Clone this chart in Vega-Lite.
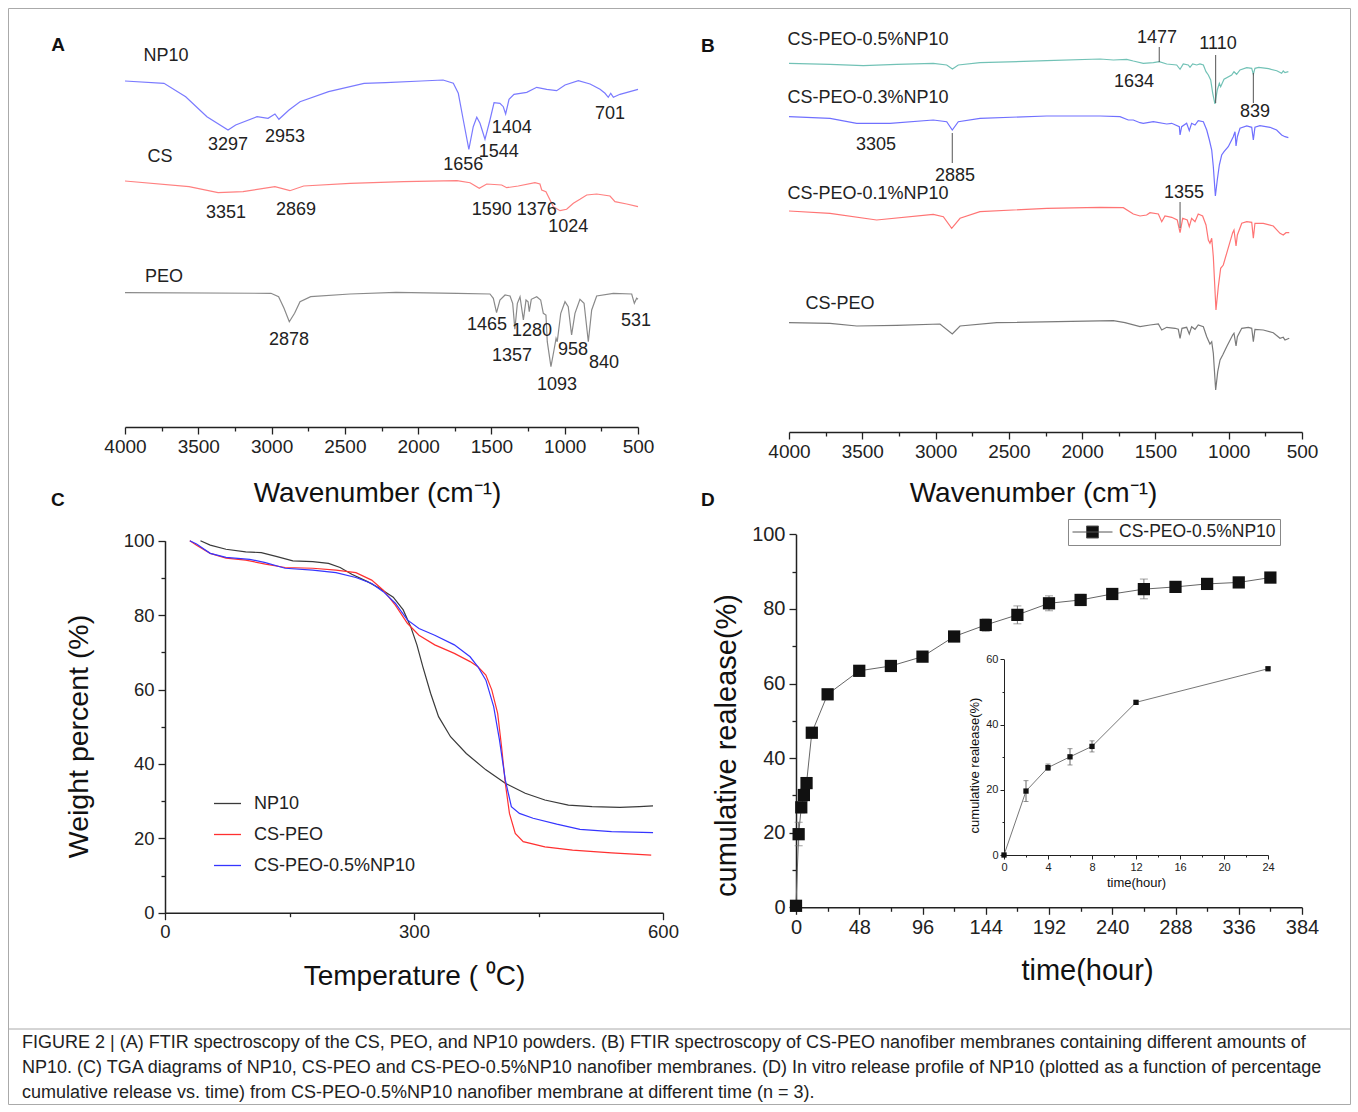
{
"$schema": "https://vega.github.io/schema/vega-lite/v6.json",
"width": 1342, "height": 1096, "padding": 8, "autosize": {"type": "none"},
"background": "white",
"config": {
 "view": {"stroke": "#aaaaaa", "strokeWidth": 1},
 "axis": {"grid": false, "labelFont": "Liberation Sans", "titleFont": "Liberation Sans", "titleFontWeight": "normal", "domainColor": "#222", "tickColor": "#222", "labelColor": "#222", "titleColor": "#111", "labelOverlap": false, "labelFlush": false, "labelBound": false},
 "text": {"font": "Liberation Sans"},
 "legend": {"labelFont": "Liberation Sans"}
},
"datasets": {
 "a_lines": [
  {"s":"NP10","w":4000,"v":346},{"s":"NP10","w":3734,"v":343.7},{"s":"NP10","w":3586,"v":330.3},{"s":"NP10","w":3441,"v":310.3},{"s":"NP10","w":3297,"v":297},{"s":"NP10","w":3245,"v":302},{"s":"NP10","w":3099,"v":310.3},{"s":"NP10","w":3024,"v":308.7},{"s":"NP10","w":2977,"v":313},{"s":"NP10","w":2950,"v":307.7},{"s":"NP10","w":2881,"v":317},{"s":"NP10","w":2806,"v":325.3},{"s":"NP10","w":2611,"v":335.3},{"s":"NP10","w":2369,"v":343.7},{"s":"NP10","w":2221,"v":344.3},{"s":"NP10","w":1978,"v":346},{"s":"NP10","w":1830,"v":347},{"s":"NP10","w":1760,"v":343.7},{"s":"NP10","w":1726,"v":333.7},{"s":"NP10","w":1692,"v":307},{"s":"NP10","w":1654,"v":277.7},{"s":"NP10","w":1624,"v":300.3},{"s":"NP10","w":1600,"v":309.7},{"s":"NP10","w":1578,"v":303.7},{"s":"NP10","w":1544,"v":287.7},{"s":"NP10","w":1510,"v":307},{"s":"NP10","w":1482,"v":324.3},{"s":"NP10","w":1442,"v":323.7},{"s":"NP10","w":1419,"v":320.3},{"s":"NP10","w":1403,"v":313},{"s":"NP10","w":1380,"v":327.7},{"s":"NP10","w":1346,"v":332.7},{"s":"NP10","w":1259,"v":334.7},{"s":"NP10","w":1191,"v":339.7},{"s":"NP10","w":1123,"v":337.7},{"s":"NP10","w":1055,"v":336.3},{"s":"NP10","w":998,"v":342},{"s":"NP10","w":907,"v":346.3},{"s":"NP10","w":827,"v":343},{"s":"NP10","w":759,"v":337.7},{"s":"NP10","w":725,"v":333.7},{"s":"NP10","w":703,"v":329.7},{"s":"NP10","w":686,"v":333.7},{"s":"NP10","w":668,"v":329.7},{"s":"NP10","w":623,"v":332.7},{"s":"NP10","w":500,"v":337.7},
  {"s":"CS","w":4000,"v":246},{"s":"CS","w":3563,"v":240.3},{"s":"CS","w":3365,"v":234.3},{"s":"CS","w":3195,"v":235.3},{"s":"CS","w":2977,"v":240.3},{"s":"CS","w":2875,"v":236.3},{"s":"CS","w":2781,"v":241},{"s":"CS","w":2465,"v":243.7},{"s":"CS","w":2099,"v":245.3},{"s":"CS","w":1735,"v":246.3},{"s":"CS","w":1646,"v":244.3},{"s":"CS","w":1583,"v":238.7},{"s":"CS","w":1532,"v":243},{"s":"CS","w":1430,"v":242},{"s":"CS","w":1396,"v":239.3},{"s":"CS","w":1317,"v":241},{"s":"CS","w":1203,"v":244.3},{"s":"CS","w":1169,"v":243},{"s":"CS","w":1157,"v":237},{"s":"CS","w":1128,"v":235.3},{"s":"CS","w":1100,"v":227},{"s":"CS","w":1078,"v":220.3},{"s":"CS","w":1032,"v":216.3},{"s":"CS","w":987,"v":217.7},{"s":"CS","w":941,"v":223.7},{"s":"CS","w":896,"v":227.7},{"s":"CS","w":850,"v":232},{"s":"CS","w":782,"v":233},{"s":"CS","w":691,"v":231},{"s":"CS","w":657,"v":225.3},{"s":"CS","w":577,"v":223},{"s":"CS","w":500,"v":220.3},
  {"s":"PEO","w":4000,"v":134.3},{"s":"PEO","w":3004,"v":133.7},{"s":"PEO","w":2952,"v":130.3},{"s":"PEO","w":2915,"v":118.7},{"s":"PEO","w":2879,"v":105.3},{"s":"PEO","w":2843,"v":113.7},{"s":"PEO","w":2806,"v":125.3},{"s":"PEO","w":2733,"v":130.3},{"s":"PEO","w":2465,"v":133},{"s":"PEO","w":2151,"v":134.7},{"s":"PEO","w":1735,"v":133.7},{"s":"PEO","w":1510,"v":133},{"s":"PEO","w":1487,"v":128.7},{"s":"PEO","w":1465,"v":114.3},{"s":"PEO","w":1442,"v":127},{"s":"PEO","w":1407,"v":132},{"s":"PEO","w":1373,"v":131},{"s":"PEO","w":1355,"v":123.7},{"s":"PEO","w":1340,"v":97.7},{"s":"PEO","w":1323,"v":123.7},{"s":"PEO","w":1305,"v":130.3},{"s":"PEO","w":1282,"v":107},{"s":"PEO","w":1264,"v":127},{"s":"PEO","w":1250,"v":125.3},{"s":"PEO","w":1242,"v":115.3},{"s":"PEO","w":1228,"v":127.7},{"s":"PEO","w":1191,"v":130.3},{"s":"PEO","w":1164,"v":127},{"s":"PEO","w":1146,"v":113.7},{"s":"PEO","w":1128,"v":112},{"s":"PEO","w":1119,"v":85.3},{"s":"PEO","w":1094,"v":60.3},{"s":"PEO","w":1073,"v":77},{"s":"PEO","w":1059,"v":88.7},{"s":"PEO","w":1051,"v":85.3},{"s":"PEO","w":1027,"v":113.7},{"s":"PEO","w":998,"v":125.3},{"s":"PEO","w":976,"v":120.3},{"s":"PEO","w":953,"v":92},{"s":"PEO","w":930,"v":113.7},{"s":"PEO","w":896,"v":127.7},{"s":"PEO","w":868,"v":123.7},{"s":"PEO","w":839,"v":85.3},{"s":"PEO","w":816,"v":117},{"s":"PEO","w":782,"v":131},{"s":"PEO","w":668,"v":133.7},{"s":"PEO","w":543,"v":133},{"s":"PEO","w":525,"v":123.7},{"s":"PEO","w":509,"v":128.7},{"s":"PEO","w":500,"v":127.7}
 ],
 "a_labels": [
  {"t":"NP10","w":3720,"v":371},{"t":"3297","w":3297,"v":282},{"t":"2953","w":2908,"v":290},{"t":"1656","w":1692,"v":262},{"t":"1544","w":1450,"v":275},{"t":"1404","w":1362,"v":299},{"t":"701","w":691,"v":313},
  {"t":"CS","w":3761,"v":270},{"t":"3351","w":3311,"v":214},{"t":"2869","w":2833,"v":217},{"t":"1590","w":1498,"v":217},{"t":"1376","w":1191,"v":217},{"t":"1024","w":976,"v":200},
  {"t":"PEO","w":3734,"v":150},{"t":"2878","w":2881,"v":87},{"t":"1465","w":1530,"v":102},{"t":"1280","w":1223,"v":96},{"t":"1357","w":1360,"v":71},{"t":"1093","w":1053,"v":42},{"t":"958","w":944,"v":77},{"t":"840","w":732,"v":64},{"t":"531","w":514,"v":106}
 ],
 "b_lines": [
  {"s":"0.5%","w":4000,"v":368.7},{"s":"0.5%","w":3720,"v":367.7},{"s":"0.5%","w":3493,"v":366.3},{"s":"0.5%","w":3265,"v":367.7},{"s":"0.5%","w":3016,"v":368.7},{"s":"0.5%","w":2924,"v":367},{"s":"0.5%","w":2885,"v":363},{"s":"0.5%","w":2845,"v":367},{"s":"0.5%","w":2697,"v":369.3},{"s":"0.5%","w":2242,"v":371.3},{"s":"0.5%","w":1878,"v":373},{"s":"0.5%","w":1787,"v":372},{"s":"0.5%","w":1696,"v":372.7},{"s":"0.5%","w":1651,"v":371},{"s":"0.5%","w":1583,"v":368.7},{"s":"0.5%","w":1514,"v":369.3},{"s":"0.5%","w":1474,"v":370.3},{"s":"0.5%","w":1423,"v":368},{"s":"0.5%","w":1355,"v":367},{"s":"0.5%","w":1332,"v":362.7},{"s":"0.5%","w":1310,"v":368},{"s":"0.5%","w":1276,"v":367},{"s":"0.5%","w":1264,"v":364.7},{"s":"0.5%","w":1246,"v":368},{"s":"0.5%","w":1218,"v":367},{"s":"0.5%","w":1196,"v":368},{"s":"0.5%","w":1173,"v":367},{"s":"0.5%","w":1155,"v":360.3},{"s":"0.5%","w":1139,"v":357},{"s":"0.5%","w":1123,"v":352},{"s":"0.5%","w":1109,"v":338.7},{"s":"0.5%","w":1094,"v":328},{"s":"0.5%","w":1078,"v":342},{"s":"0.5%","w":1064,"v":348.7},{"s":"0.5%","w":1055,"v":345.3},{"s":"0.5%","w":1032,"v":352.7},{"s":"0.5%","w":980,"v":357},{"s":"0.5%","w":964,"v":360.3},{"s":"0.5%","w":946,"v":357.7},{"s":"0.5%","w":923,"v":362},{"s":"0.5%","w":877,"v":364.3},{"s":"0.5%","w":843,"v":363.7},{"s":"0.5%","w":832,"v":357.7},{"s":"0.5%","w":821,"v":363.7},{"s":"0.5%","w":795,"v":364.7},{"s":"0.5%","w":728,"v":363.3},{"s":"0.5%","w":672,"v":361.3},{"s":"0.5%","w":639,"v":358.7},{"s":"0.5%","w":628,"v":361},{"s":"0.5%","w":616,"v":359.3},{"s":"0.5%","w":593,"v":360.3},
  {"s":"0.3%","w":4000,"v":315.3},{"s":"0.3%","w":3720,"v":313.7},{"s":"0.3%","w":3538,"v":308.7},{"s":"0.3%","w":3311,"v":308.7},{"s":"0.3%","w":3016,"v":312},{"s":"0.3%","w":2924,"v":310.3},{"s":"0.3%","w":2886,"v":302},{"s":"0.3%","w":2845,"v":310.3},{"s":"0.3%","w":2697,"v":313.7},{"s":"0.3%","w":2242,"v":316},{"s":"0.3%","w":1878,"v":316},{"s":"0.3%","w":1742,"v":315.3},{"s":"0.3%","w":1685,"v":312},{"s":"0.3%","w":1651,"v":312},{"s":"0.3%","w":1605,"v":309.3},{"s":"0.3%","w":1583,"v":308.7},{"s":"0.3%","w":1514,"v":310.3},{"s":"0.3%","w":1423,"v":308},{"s":"0.3%","w":1389,"v":308.7},{"s":"0.3%","w":1337,"v":305.3},{"s":"0.3%","w":1332,"v":297},{"s":"0.3%","w":1321,"v":305.3},{"s":"0.3%","w":1287,"v":308.7},{"s":"0.3%","w":1269,"v":301.3},{"s":"0.3%","w":1253,"v":308.7},{"s":"0.3%","w":1230,"v":307},{"s":"0.3%","w":1208,"v":311.3},{"s":"0.3%","w":1173,"v":310.3},{"s":"0.3%","w":1150,"v":302},{"s":"0.3%","w":1132,"v":292},{"s":"0.3%","w":1116,"v":282},{"s":"0.3%","w":1105,"v":265.3},{"s":"0.3%","w":1091,"v":236},{"s":"0.3%","w":1078,"v":252},{"s":"0.3%","w":1064,"v":267},{"s":"0.3%","w":1048,"v":277},{"s":"0.3%","w":1032,"v":280.3},{"s":"0.3%","w":1003,"v":285.3},{"s":"0.3%","w":969,"v":295.3},{"s":"0.3%","w":957,"v":300.3},{"s":"0.3%","w":950,"v":286},{"s":"0.3%","w":941,"v":295.3},{"s":"0.3%","w":923,"v":303.7},{"s":"0.3%","w":877,"v":306},{"s":"0.3%","w":843,"v":304.7},{"s":"0.3%","w":832,"v":292},{"s":"0.3%","w":821,"v":304.7},{"s":"0.3%","w":787,"v":306.3},{"s":"0.3%","w":718,"v":304.7},{"s":"0.3%","w":673,"v":302},{"s":"0.3%","w":639,"v":297},{"s":"0.3%","w":616,"v":295.3},{"s":"0.3%","w":593,"v":294.3},
  {"s":"0.1%","w":4000,"v":221},{"s":"0.1%","w":3720,"v":218.7},{"s":"0.1%","w":3402,"v":212},{"s":"0.1%","w":3016,"v":217.7},{"s":"0.1%","w":2947,"v":215.3},{"s":"0.1%","w":2890,"v":203.7},{"s":"0.1%","w":2833,"v":213.7},{"s":"0.1%","w":2697,"v":220.3},{"s":"0.1%","w":2242,"v":223.7},{"s":"0.1%","w":1878,"v":224.7},{"s":"0.1%","w":1719,"v":224.3},{"s":"0.1%","w":1651,"v":218},{"s":"0.1%","w":1605,"v":216},{"s":"0.1%","w":1560,"v":217},{"s":"0.1%","w":1537,"v":219.3},{"s":"0.1%","w":1480,"v":218},{"s":"0.1%","w":1457,"v":210.3},{"s":"0.1%","w":1435,"v":216},{"s":"0.1%","w":1389,"v":214.7},{"s":"0.1%","w":1351,"v":212},{"s":"0.1%","w":1332,"v":199.3},{"s":"0.1%","w":1314,"v":213.7},{"s":"0.1%","w":1283,"v":212},{"s":"0.1%","w":1269,"v":205.3},{"s":"0.1%","w":1253,"v":213.7},{"s":"0.1%","w":1230,"v":210.3},{"s":"0.1%","w":1208,"v":218},{"s":"0.1%","w":1178,"v":216},{"s":"0.1%","w":1155,"v":207},{"s":"0.1%","w":1139,"v":192},{"s":"0.1%","w":1128,"v":188.7},{"s":"0.1%","w":1116,"v":193.7},{"s":"0.1%","w":1105,"v":175.3},{"s":"0.1%","w":1087,"v":122},{"s":"0.1%","w":1071,"v":145.3},{"s":"0.1%","w":1055,"v":163.7},{"s":"0.1%","w":1037,"v":167},{"s":"0.1%","w":1014,"v":178.7},{"s":"0.1%","w":973,"v":199.3},{"s":"0.1%","w":964,"v":202},{"s":"0.1%","w":950,"v":186},{"s":"0.1%","w":941,"v":197},{"s":"0.1%","w":911,"v":208.7},{"s":"0.1%","w":877,"v":210.3},{"s":"0.1%","w":843,"v":209.7},{"s":"0.1%","w":832,"v":193.7},{"s":"0.1%","w":821,"v":208.7},{"s":"0.1%","w":764,"v":208.7},{"s":"0.1%","w":696,"v":206},{"s":"0.1%","w":650,"v":198.7},{"s":"0.1%","w":628,"v":197},{"s":"0.1%","w":609,"v":199.3},{"s":"0.1%","w":587,"v":199.3},
  {"s":"0%","w":4000,"v":109.3},{"s":"0%","w":3720,"v":108.7},{"s":"0%","w":3538,"v":106},{"s":"0%","w":3265,"v":106.7},{"s":"0%","w":2970,"v":108},{"s":"0%","w":2886,"v":98},{"s":"0%","w":2833,"v":106},{"s":"0%","w":2583,"v":109.3},{"s":"0%","w":1787,"v":111.3},{"s":"0%","w":1708,"v":109.3},{"s":"0%","w":1605,"v":105.3},{"s":"0%","w":1537,"v":107},{"s":"0%","w":1480,"v":108},{"s":"0%","w":1457,"v":102},{"s":"0%","w":1423,"v":104.7},{"s":"0%","w":1366,"v":103.7},{"s":"0%","w":1344,"v":102.7},{"s":"0%","w":1332,"v":93.7},{"s":"0%","w":1319,"v":103.7},{"s":"0%","w":1287,"v":104.7},{"s":"0%","w":1269,"v":98},{"s":"0%","w":1253,"v":105.3},{"s":"0%","w":1230,"v":102.7},{"s":"0%","w":1208,"v":107},{"s":"0%","w":1173,"v":105.3},{"s":"0%","w":1150,"v":95.3},{"s":"0%","w":1128,"v":88},{"s":"0%","w":1116,"v":90.3},{"s":"0%","w":1105,"v":78.7},{"s":"0%","w":1089,"v":42},{"s":"0%","w":1075,"v":60.3},{"s":"0%","w":1059,"v":72},{"s":"0%","w":1041,"v":77},{"s":"0%","w":1014,"v":85.3},{"s":"0%","w":973,"v":97},{"s":"0%","w":964,"v":98.7},{"s":"0%","w":950,"v":86},{"s":"0%","w":941,"v":95.3},{"s":"0%","w":911,"v":103.7},{"s":"0%","w":866,"v":104.7},{"s":"0%","w":843,"v":103.7},{"s":"0%","w":832,"v":90.3},{"s":"0%","w":821,"v":102.7},{"s":"0%","w":764,"v":102},{"s":"0%","w":696,"v":99.3},{"s":"0%","w":650,"v":93.7},{"s":"0%","w":628,"v":94.7},{"s":"0%","w":616,"v":92},{"s":"0%","w":587,"v":93.7}
 ],
 "b_labels": [
  {"t":"CS-PEO-0.5%NP10","w":3461,"v":392},{"t":"1477","w":1489,"v":394},{"t":"1110","w":1073,"v":388},{"t":"1634","w":1646,"v":350},
  {"t":"CS-PEO-0.3%NP10","w":3461,"v":334},{"t":"839","w":821,"v":320},{"t":"3305","w":3406,"v":287},{"t":"2885","w":2867,"v":256},
  {"t":"CS-PEO-0.1%NP10","w":3461,"v":238},{"t":"1355","w":1305,"v":239},{"t":"CS-PEO","w":3652,"v":128}
 ],
 "b_rules": [
  {"w":1474,"v":385,"v2":370},{"w":1089,"v":377,"v2":329},{"w":832,"v":359,"v2":329},{"w":2886,"v":299,"v2":269},{"w":1332,"v":230,"v2":204}
 ],
 "c": [
  {"s":"NP10","T":42.7,"W":100},{"s":"NP10","T":54.5,"W":98.8},{"s":"NP10","T":73.5,"W":97.7},{"s":"NP10","T":97.2,"W":97.0},{"s":"NP10","T":116,"W":96.8},{"s":"NP10","T":135,"W":95.7},{"s":"NP10","T":154,"W":94.6},{"s":"NP10","T":178,"W":94.4},{"s":"NP10","T":197,"W":93.9},{"s":"NP10","T":211,"W":92.8},{"s":"NP10","T":225,"W":91.0},{"s":"NP10","T":244,"W":89.0},{"s":"NP10","T":258.5,"W":87.2},{"s":"NP10","T":275,"W":84.8},{"s":"NP10","T":287,"W":81.4},{"s":"NP10","T":296,"W":76.9},{"s":"NP10","T":303.5,"W":72.0},{"s":"NP10","T":310.7,"W":66.1},{"s":"NP10","T":320,"W":59.0},{"s":"NP10","T":329.6,"W":52.7},{"s":"NP10","T":344,"W":47.3},{"s":"NP10","T":363,"W":42.8},{"s":"NP10","T":386.6,"W":38.4},{"s":"NP10","T":410,"W":34.8},{"s":"NP10","T":434,"W":32.1},{"s":"NP10","T":457.7,"W":30.3},{"s":"NP10","T":486,"W":28.9},{"s":"NP10","T":514.6,"W":28.5},{"s":"NP10","T":548,"W":28.3},{"s":"NP10","T":571.5,"W":28.5},{"s":"NP10","T":588,"W":28.7},
  {"s":"CS-PEO","T":29.9,"W":100},{"s":"CS-PEO","T":38,"W":98.8},{"s":"CS-PEO","T":54.5,"W":96.6},{"s":"CS-PEO","T":73.5,"W":95.3},{"s":"CS-PEO","T":97.2,"W":94.8},{"s":"CS-PEO","T":121,"W":93.7},{"s":"CS-PEO","T":144.7,"W":92.8},{"s":"CS-PEO","T":178,"W":92.6},{"s":"CS-PEO","T":206,"W":92.1},{"s":"CS-PEO","T":230,"W":91.4},{"s":"CS-PEO","T":249,"W":89.4},{"s":"CS-PEO","T":263,"W":86.7},{"s":"CS-PEO","T":277.5,"W":82.7},{"s":"CS-PEO","T":292,"W":77.8},{"s":"CS-PEO","T":306,"W":74.6},{"s":"CS-PEO","T":325,"W":72.0},{"s":"CS-PEO","T":348.6,"W":69.7},{"s":"CS-PEO","T":367.6,"W":67.5},{"s":"CS-PEO","T":377,"W":66.1},{"s":"CS-PEO","T":386.6,"W":63.9},{"s":"CS-PEO","T":393.7,"W":59.9},{"s":"CS-PEO","T":400.8,"W":53.6},{"s":"CS-PEO","T":405.5,"W":44.6},{"s":"CS-PEO","T":410,"W":34.8},{"s":"CS-PEO","T":415,"W":26.7},{"s":"CS-PEO","T":422,"W":21.3},{"s":"CS-PEO","T":431.6,"W":19.1},{"s":"CS-PEO","T":457.7,"W":17.7},{"s":"CS-PEO","T":491,"W":16.8},{"s":"CS-PEO","T":538,"W":16.1},{"s":"CS-PEO","T":585.8,"W":15.5},
  {"s":"CS-PEO-0.5%NP10","T":29.9,"W":100},{"s":"CS-PEO-0.5%NP10","T":38,"W":99.1},{"s":"CS-PEO-0.5%NP10","T":54.5,"W":96.6},{"s":"CS-PEO-0.5%NP10","T":73.5,"W":95.5},{"s":"CS-PEO-0.5%NP10","T":102,"W":95.0},{"s":"CS-PEO-0.5%NP10","T":121,"W":94.1},{"s":"CS-PEO-0.5%NP10","T":144.7,"W":92.6},{"s":"CS-PEO-0.5%NP10","T":178,"W":92.1},{"s":"CS-PEO-0.5%NP10","T":206,"W":91.4},{"s":"CS-PEO-0.5%NP10","T":230,"W":90.1},{"s":"CS-PEO-0.5%NP10","T":249,"W":88.5},{"s":"CS-PEO-0.5%NP10","T":263,"W":86.3},{"s":"CS-PEO-0.5%NP10","T":277.5,"W":83.2},{"s":"CS-PEO-0.5%NP10","T":292,"W":78.7},{"s":"CS-PEO-0.5%NP10","T":306,"W":76.4},{"s":"CS-PEO-0.5%NP10","T":325,"W":74.6},{"s":"CS-PEO-0.5%NP10","T":348.6,"W":72.0},{"s":"CS-PEO-0.5%NP10","T":367.6,"W":68.8},{"s":"CS-PEO-0.5%NP10","T":377,"W":66.1},{"s":"CS-PEO-0.5%NP10","T":386.6,"W":62.5},{"s":"CS-PEO-0.5%NP10","T":396,"W":55.4},{"s":"CS-PEO-0.5%NP10","T":403,"W":46.4},{"s":"CS-PEO-0.5%NP10","T":410,"W":35.7},{"s":"CS-PEO-0.5%NP10","T":417.3,"W":28.5},{"s":"CS-PEO-0.5%NP10","T":427,"W":26.7},{"s":"CS-PEO-0.5%NP10","T":443.5,"W":25.4},{"s":"CS-PEO-0.5%NP10","T":472,"W":23.8},{"s":"CS-PEO-0.5%NP10","T":500,"W":22.4},{"s":"CS-PEO-0.5%NP10","T":538,"W":21.8},{"s":"CS-PEO-0.5%NP10","T":588,"W":21.5}
 ],
 "d": [
  {"series":"CS-PEO-0.5%NP10","t":0,"R":0.4,"lo":0.4,"hi":0.4},
  {"series":"CS-PEO-0.5%NP10","t":2,"R":19.6,"lo":16.5,"hi":22.8},
  {"series":"CS-PEO-0.5%NP10","t":4,"R":26.8,"lo":25.3,"hi":28.3},
  {"series":"CS-PEO-0.5%NP10","t":6,"R":30.1,"lo":28.5,"hi":31.7},
  {"series":"CS-PEO-0.5%NP10","t":8,"R":33.3,"lo":31.8,"hi":34.8},
  {"series":"CS-PEO-0.5%NP10","t":12,"R":46.8,"lo":46.2,"hi":47.4},
  {"series":"CS-PEO-0.5%NP10","t":24,"R":57.1,"lo":56.5,"hi":57.7},
  {"series":"CS-PEO-0.5%NP10","t":48,"R":63.4,"lo":62.2,"hi":64.6},
  {"series":"CS-PEO-0.5%NP10","t":72,"R":64.7,"lo":63.6,"hi":65.8},
  {"series":"CS-PEO-0.5%NP10","t":96,"R":67.2,"lo":66.7,"hi":67.7},
  {"series":"CS-PEO-0.5%NP10","t":120,"R":72.6,"lo":72.0,"hi":73.2},
  {"series":"CS-PEO-0.5%NP10","t":144,"R":75.7,"lo":74.0,"hi":77.3},
  {"series":"CS-PEO-0.5%NP10","t":168,"R":78.4,"lo":76.0,"hi":80.8},
  {"series":"CS-PEO-0.5%NP10","t":192,"R":81.5,"lo":79.5,"hi":83.5},
  {"series":"CS-PEO-0.5%NP10","t":216,"R":82.4,"lo":80.9,"hi":83.9},
  {"series":"CS-PEO-0.5%NP10","t":240,"R":84.0,"lo":82.8,"hi":85.2},
  {"series":"CS-PEO-0.5%NP10","t":264,"R":85.3,"lo":82.7,"hi":88.0},
  {"series":"CS-PEO-0.5%NP10","t":288,"R":85.9,"lo":84.9,"hi":86.9},
  {"series":"CS-PEO-0.5%NP10","t":312,"R":86.7,"lo":86.2,"hi":87.2},
  {"series":"CS-PEO-0.5%NP10","t":336,"R":87.1,"lo":86.6,"hi":87.6},
  {"series":"CS-PEO-0.5%NP10","t":360,"R":88.4,"lo":87.9,"hi":88.9}
 ],
 "inset": [
  {"t":0,"R":0,"lo":0,"hi":0},{"t":2,"R":19.6,"lo":16.4,"hi":22.8},{"t":4,"R":26.8,"lo":25.9,"hi":27.9},{"t":6,"R":30.1,"lo":27.6,"hi":32.6},{"t":8,"R":33.3,"lo":31.6,"hi":35.0},{"t":12,"R":46.8,"lo":46.3,"hi":47.3},{"t":24,"R":57.1,"lo":56.6,"hi":57.6}
 ],
 "caption": [
  {"line":1,"text":"FIGURE 2 | (A) FTIR spectroscopy of the CS, PEO, and NP10 powders. (B) FTIR spectroscopy of CS-PEO nanofiber membranes containing different amounts of"},
  {"line":2,"text":"NP10. (C) TGA diagrams of NP10, CS-PEO and CS-PEO-0.5%NP10 nanofiber membranes. (D) In vitro release profile of NP10 (plotted as a function of percentage"},
  {"line":3,"text":"cumulative release vs. time) from CS-PEO-0.5%NP10 nanofiber membrane at different time (n = 3)."}
 ]
},
"layer": [
 {
  "encoding": {
   "x": {"field":"w","type":"quantitative","scale":{"domain":[4000,500],"range":[117,630],"nice":false,"zero":false},
    "axis":{"orient":"bottom","offset":-677,"values":[4000,3750,3500,3250,3000,2750,2500,2250,2000,1750,1500,1250,1000,750,500],"format":"d","labelExpr":"datum.value % 500 === 0 ? datum.label : ''","tickSize":{"condition":{"test":"datum.value % 500 === 0","value":7},"value":4},"tickWidth":1.3,"domainWidth":1.5,"labelFontSize":19,"labelPadding":3,"title":"Wavenumber (cm⁻¹)","titleFontSize":28,"titlePadding":23,"titleX":369}},
   "y": {"field":"v","type":"quantitative","scale":{"domain":[0,400],"range":[419,19],"nice":false,"zero":false},"axis":null}
  },
  "layer": [
   {"data":{"name":"a_lines"},"mark":{"type":"line","strokeWidth":1.2},"encoding":{"color":{"field":"s","type":"nominal","scale":{"domain":["NP10","CS","PEO"],"range":["#7a7aff","#ff8080","#8a8a8a"]},"legend":null}}},
   {"data":{"name":"a_labels"},"mark":{"type":"text","fontSize":18,"color":"#222"},"encoding":{"text":{"field":"t"}}},
   {"data":{"values":[{"L":"A","w":4457,"v":382}]},"mark":{"type":"text","fontSize":19,"fontWeight":"bold","color":"#111"},"encoding":{"text":{"field":"L"}}}
  ]
 },
 {
  "encoding": {
   "x": {"field":"w","type":"quantitative","scale":{"domain":[4000,500],"range":[781,1294],"nice":false,"zero":false},
    "axis":{"orient":"bottom","offset":-672,"values":[4000,3750,3500,3250,3000,2750,2500,2250,2000,1750,1500,1250,1000,750,500],"format":"d","labelExpr":"datum.value % 500 === 0 ? datum.label : ''","tickSize":{"condition":{"test":"datum.value % 500 === 0","value":7},"value":4},"tickWidth":1.3,"domainWidth":1.5,"labelFontSize":19,"labelPadding":3,"title":"Wavenumber (cm⁻¹)","titleFontSize":28,"titlePadding":18,"titleX":1025}},
   "y": {"field":"v","type":"quantitative","scale":{"domain":[0,400],"range":[424,24],"nice":false,"zero":false},"axis":null}
  },
  "layer": [
   {"data":{"name":"b_lines"},"mark":{"type":"line","strokeWidth":1.2},"encoding":{"color":{"field":"s","type":"nominal","scale":{"domain":["0.5%","0.3%","0.1%","0%"],"range":["#72c2b6","#7070ff","#ff7474","#7a7a7a"]},"legend":null}}},
   {"data":{"name":"b_rules"},"mark":{"type":"rule","color":"#555","strokeWidth":1},"encoding":{"y2":{"field":"v2"}}},
   {"data":{"name":"b_labels"},"mark":{"type":"text","fontSize":18,"color":"#222"},"encoding":{"text":{"field":"t"}}},
   {"data":{"values":[{"L":"B","w":4553,"v":386}]},"mark":{"type":"text","fontSize":19,"fontWeight":"bold","color":"#111"},"encoding":{"text":{"field":"L"}}}
  ]
 },
 {
  "encoding": {
   "x": {"field":"T","type":"quantitative","scale":{"domain":[0,600],"range":[157,655],"nice":false,"zero":false},
    "axis":{"orient":"bottom","offset":-191.3,"values":[0,150,300,450,600],"format":"d","labelExpr":"datum.value % 300 === 0 ? datum.label : ''","tickSize":{"condition":{"test":"datum.value % 300 === 0","value":7},"value":4},"tickWidth":1.3,"domainWidth":1.5,"labelFontSize":18.5,"labelPadding":3,"title":"Temperature ( ⁰C)","titleFontSize":28,"titlePadding":21}},
   "y": {"field":"W","type":"quantitative","scale":{"domain":[0,100],"range":[904.7,532.7],"nice":false,"zero":false},
    "axis":{"orient":"left","offset":-157,"values":[0,10,20,30,40,50,60,70,80,90,100],"format":"d","labelExpr":"datum.value % 20 === 0 ? datum.label : ''","tickSize":{"condition":{"test":"datum.value % 20 === 0","value":7},"value":4},"tickWidth":1.3,"domainWidth":1.5,"labelFontSize":18.5,"labelPadding":4,"title":"Weight percent (%)","titleFontSize":28.5,"titlePadding":30,"titleY":728}}
  },
  "layer": [
   {"data":{"name":"c"},"mark":{"type":"line","strokeWidth":1.2},"encoding":{"color":{"field":"s","type":"nominal","scale":{"domain":["NP10","CS-PEO","CS-PEO-0.5%NP10"],"range":["#3a3a3a","#ff3030","#3535ff"]},
     "legend":{"orient":"none","legendX":205,"legendY":781,"title":null,"symbolType":"stroke","symbolSize":729,"symbolStrokeWidth":1.3,"labelFontSize":18,"labelColor":"#222","labelOffset":12,"labelLimit":400,"rowPadding":7,"padding":0}}}},
   {"data":{"values":[{"L":"C","T":-129,"W":110.9}]},"mark":{"type":"text","fontSize":19,"fontWeight":"bold","color":"#111"},"encoding":{"text":{"field":"L"}}}
  ]
 },
 {
  "layer": [
   {"data":{"name":"d"},"mark":{"type":"line","color":"#666","strokeWidth":1},
    "encoding":{
     "x":{"field":"t","type":"quantitative","scale":{"domain":[0,384],"range":[788,1294],"nice":false,"zero":false},"axis":{"orient":"bottom","offset":-196.7,"values":[0,24,48,72,96,120,144,168,192,216,240,264,288,312,336,360,384],"format":"d","labelExpr":"datum.value % 48 === 0 ? datum.label : ''","tickSize":{"condition":{"test":"datum.value % 48 === 0","value":7},"value":4},"tickWidth":1.3,"domainWidth":1.5,"labelFontSize":20,"labelPadding":3,"title":"time(hour)","titleFontSize":29,"titlePadding":19,"titleX":1079}},
     "y":{"field":"R","type":"quantitative","scale":{"domain":[0,100],"range":[899.3,526.3],"nice":false,"zero":false},"axis":{"orient":"left","offset":-788,"values":[0,10,20,30,40,50,60,70,80,90,100],"format":"d","labelExpr":"datum.value % 20 === 0 ? datum.label : ''","tickSize":{"condition":{"test":"datum.value % 20 === 0","value":7},"value":4},"tickWidth":1.3,"domainWidth":1.5,"labelFontSize":20,"labelPadding":4,"title":"cumulative realease(%)","titleFontSize":29,"titlePadding":10,"titleY":737}}
    }},
   {"data":{"name":"d"},"mark":{"type":"rule","color":"#777","strokeWidth":1},
    "encoding":{"x":{"field":"t","type":"quantitative"},"y":{"field":"lo","type":"quantitative"},"y2":{"field":"hi"}}},
   {"data":{"name":"d"},"mark":{"type":"tick","orient":"horizontal","color":"#777","size":8,"thickness":1},
    "encoding":{"x":{"field":"t","type":"quantitative"},"y":{"field":"lo","type":"quantitative"}}},
   {"data":{"name":"d"},"mark":{"type":"tick","orient":"horizontal","color":"#777","size":8,"thickness":1},
    "encoding":{"x":{"field":"t","type":"quantitative"},"y":{"field":"hi","type":"quantitative"}}},
   {"data":{"name":"d"},"mark":{"type":"point","shape":"square","filled":true,"size":150,"opacity":1},
    "encoding":{"x":{"field":"t","type":"quantitative"},"y":{"field":"R","type":"quantitative"},
     "color":{"field":"series","type":"nominal","scale":{"range":["#111111"]},
      "legend":{"orient":"none","legendX":1060,"legendY":511,"title":null,"symbolType":"M-1,0H1M-0.3,-0.3H0.3V0.3H-0.3Z","symbolSize":1600,"clipHeight":18,"symbolStrokeColor":"#555","symbolStrokeWidth":1,"labelFontSize":17.5,"labelColor":"#222","labelOffset":6,"labelLimit":400,"padding":4,"strokeColor":"#888"}}}},
   {"data":{"values":[{"L":"D","t":-66.8,"R":109.2}]},"mark":{"type":"text","fontSize":19,"fontWeight":"bold","color":"#111"},
    "encoding":{"x":{"field":"t","type":"quantitative"},"y":{"field":"R","type":"quantitative"},"text":{"field":"L"}}}
  ]
 },
 {
  "layer": [
   {"data":{"name":"inset"},"mark":{"type":"line","color":"#777","strokeWidth":1},
    "encoding":{
     "x":{"field":"t","type":"quantitative","scale":{"domain":[0,24],"range":[996,1260],"nice":false,"zero":false},"axis":{"orient":"bottom","offset":-249,"values":[0,2,4,6,8,10,12,14,16,18,20,22,24],"format":"d","labelExpr":"datum.value % 4 === 0 ? datum.label : ''","tickSize":{"condition":{"test":"datum.value % 4 === 0","value":4},"value":2},"tickWidth":1,"domainWidth":1,"labelFontSize":11,"labelPadding":2,"title":"time(hour)","titleFontSize":13,"titlePadding":4}},
     "y":{"field":"R","type":"quantitative","scale":{"domain":[0,60],"range":[847,651.3],"nice":false,"zero":false},"axis":{"orient":"left","offset":-996,"values":[0,10,20,30,40,50,60],"format":"d","labelExpr":"datum.value % 20 === 0 ? datum.label : ''","tickSize":{"condition":{"test":"datum.value % 20 === 0","value":4},"value":2},"tickWidth":1,"domainWidth":1,"labelFontSize":11,"labelPadding":2,"title":"cumulative realease(%)","titleFontSize":13,"titlePadding":4,"titleY":757}}
    }},
   {"data":{"name":"inset"},"mark":{"type":"rule","color":"#666","strokeWidth":1},
    "encoding":{"x":{"field":"t","type":"quantitative"},"y":{"field":"lo","type":"quantitative"},"y2":{"field":"hi"}}},
   {"data":{"name":"inset"},"mark":{"type":"tick","orient":"horizontal","color":"#666","size":5,"thickness":1},
    "encoding":{"x":{"field":"t","type":"quantitative"},"y":{"field":"lo","type":"quantitative"}}},
   {"data":{"name":"inset"},"mark":{"type":"tick","orient":"horizontal","color":"#666","size":5,"thickness":1},
    "encoding":{"x":{"field":"t","type":"quantitative"},"y":{"field":"hi","type":"quantitative"}}},
   {"data":{"name":"inset"},"mark":{"type":"point","shape":"square","filled":true,"size":28,"opacity":1,"color":"#111"},
    "encoding":{"x":{"field":"t","type":"quantitative"},"y":{"field":"R","type":"quantitative"}}}
  ]
 },
 {
  "data":{"name":"caption"},
  "encoding":{
   "y":{"field":"line","type":"quantitative","scale":{"domain":[0,4],"range":[1010,1110],"nice":false,"zero":false},"axis":null}
  },
  "layer":[
   {"mark":{"type":"text","align":"left","baseline":"middle","fontSize":18,"color":"#222"},
    "encoding":{"x":{"datum":0,"type":"quantitative","scale":{"domain":[0,1],"range":[14,1342]},"axis":null},"text":{"field":"text"}}},
   {"data":{"values":[{"line":0.44}]},"mark":{"type":"rule","color":"#aaaaaa","strokeWidth":1},"encoding":{}}
  ]
 }
],
"resolve": {"scale": {"x":"independent","y":"independent","color":"independent"}, "axis": {"x":"independent","y":"independent"}, "legend": {"color":"independent"}}
}
